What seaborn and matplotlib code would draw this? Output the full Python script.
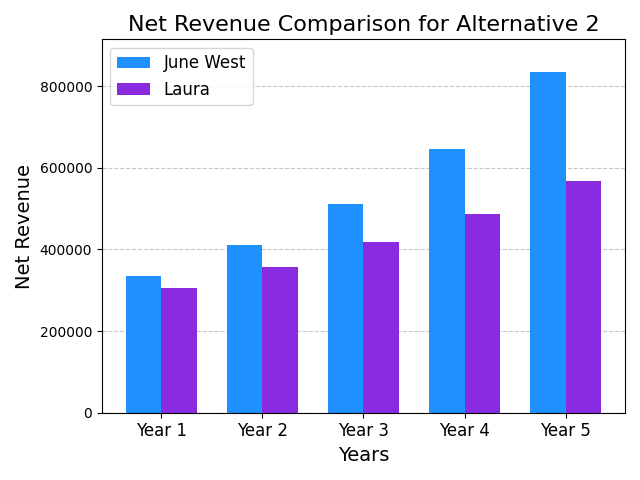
import matplotlib
matplotlib.use("Agg")
import matplotlib.pyplot as plt
import seaborn as sns
import pandas as pd

years = ["Year 1", "Year 2", "Year 3", "Year 4", "Year 5"]
june_west = [335000, 411000, 512000, 647000, 834000]
laura = [305000, 357000, 418000, 487000, 569000]

df = pd.DataFrame({
    "Years": years * 2,
    "Net Revenue": june_west + laura,
    "Series": ["June West"] * 5 + ["Laura"] * 5,
})

fig, ax = plt.subplots(figsize=(6.4, 4.8), dpi=100)
sns.barplot(data=df, x="Years", y="Net Revenue", hue="Series",
            palette=["#1E90FF", "#8A2BE2"], width=0.7, saturation=1, ax=ax)
ax.set_title("Net Revenue Comparison for Alternative 2", fontsize=16)
ax.set_xlabel("Years", fontsize=14)
ax.set_ylabel("Net Revenue", fontsize=14)
ax.tick_params(axis="x", labelsize=12)
ax.set_ylim(0, 915000)
ax.set_xlim(-0.585, 4.585)
ax.yaxis.grid(True, linestyle="--", alpha=0.7)
ax.set_axisbelow(True)
ax.legend(fontsize=12, loc="upper left", title=None)
fig.tight_layout()
fig.savefig("out.png")
